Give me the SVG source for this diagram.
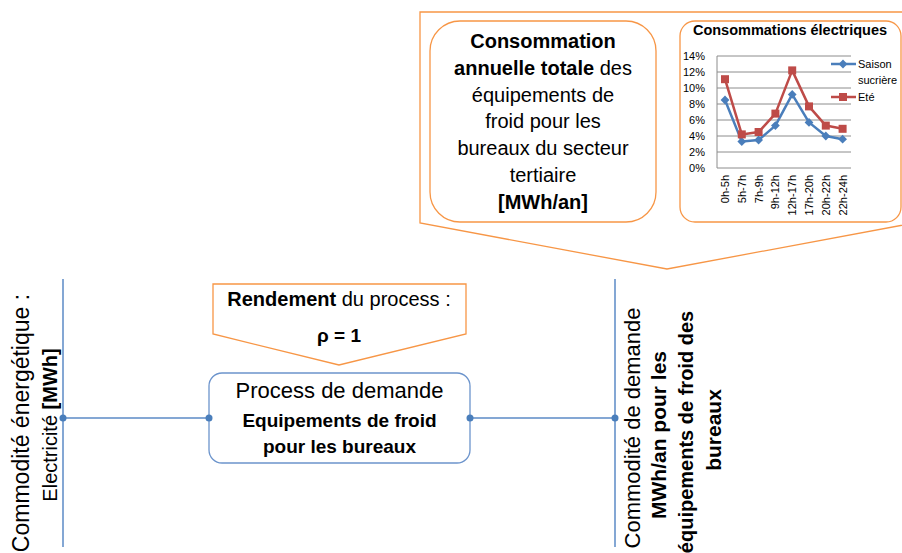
<svg xmlns="http://www.w3.org/2000/svg" width="902" height="553" viewBox="0 0 902 553">
<style>
text{font-family:"Liberation Sans",Arial,sans-serif;fill:#000}
.b{font-weight:bold}
.orange{fill:#fff;stroke:#F79646;stroke-width:1.3}
.conn{stroke:#5B8AC6;stroke-width:1.5;fill:none}
.dot{fill:#4A7EBB}
.grid{stroke:#8C8C8C;stroke-width:1}
.ax{font-size:11px}
</style>
<defs>
<marker id="mDia" markerUnits="userSpaceOnUse" markerWidth="10" markerHeight="10" refX="5" refY="5" viewBox="0 0 10 10" overflow="visible">
<path d="M5,0.6 L9.4,5 L5,9.4 L0.6,5 Z" fill="#4A7EBB"/>
</marker>
<marker id="mSq" markerUnits="userSpaceOnUse" markerWidth="10" markerHeight="10" refX="5" refY="5" viewBox="0 0 10 10" overflow="visible">
<rect x="1" y="1" width="8" height="8" fill="#BE4B48"/>
</marker>
</defs>

<g id="callout-top">
<path class="orange" d="M420,12 H914 V223 L667,269 L420,223 Z"/>
</g>

<g id="node-consommation">
<rect class="orange" x="430" y="21" width="226" height="201" rx="30" ry="30"/>
<g font-size="20" text-anchor="middle">
<text x="543" y="48" class="b">Consommation</text>
<text x="543" y="75"><tspan class="b">annuelle totale</tspan> des</text>
<text x="543" y="102">équipements de</text>
<text x="543" y="128">froid pour les</text>
<text x="543" y="155">bureaux du secteur</text>
<text x="543" y="182">tertiaire</text>
<text x="543" y="209" class="b">[MWh/an]</text>
</g>
</g>

<g id="node-chart">
<rect class="orange" x="680" y="21" width="221" height="201" rx="15" ry="15"/>
<text x="790" y="35" font-size="14.5" class="b" text-anchor="middle">Consommations électriques</text>
<g class="grid">
<line x1="717" y1="56" x2="851" y2="56"/>
<line x1="717" y1="72" x2="851" y2="72"/>
<line x1="717" y1="88" x2="851" y2="88"/>
<line x1="717" y1="104" x2="851" y2="104"/>
<line x1="717" y1="120" x2="851" y2="120"/>
<line x1="717" y1="136" x2="851" y2="136"/>
<line x1="717" y1="152" x2="851" y2="152"/>
<line x1="717" y1="168" x2="851" y2="168"/>
<line x1="717" y1="56" x2="717" y2="168"/>
</g>
<g class="ax" text-anchor="end">
<text x="705" y="60">14%</text>
<text x="705" y="76">12%</text>
<text x="705" y="92">10%</text>
<text x="705" y="108">8%</text>
<text x="705" y="124">6%</text>
<text x="705" y="140">4%</text>
<text x="705" y="156">2%</text>
<text x="705" y="172">0%</text>
</g>
<g class="ax" text-anchor="end">
<text transform="translate(729,175) rotate(-90)">0h-5h</text>
<text transform="translate(745.8,175) rotate(-90)">5h-7h</text>
<text transform="translate(762.6,175) rotate(-90)">7h-9h</text>
<text transform="translate(779.4,175) rotate(-90)">9h-12h</text>
<text transform="translate(796.2,175) rotate(-90)">12h-17h</text>
<text transform="translate(813,175) rotate(-90)">17h-20h</text>
<text transform="translate(829.8,175) rotate(-90)">20h-22h</text>
<text transform="translate(846.6,175) rotate(-90)">22h-24h</text>
</g>
<polyline fill="none" stroke="#4A7EBB" stroke-width="2.5" stroke-linejoin="round" marker-start="url(#mDia)" marker-mid="url(#mDia)" marker-end="url(#mDia)" points="725,100 741.8,141.6 758.6,140 775.4,125.6 792.2,94.4 809,122.4 825.8,136 842.6,139.2"/>
<polyline fill="none" stroke="#BE4B48" stroke-width="2.5" stroke-linejoin="round" marker-start="url(#mSq)" marker-mid="url(#mSq)" marker-end="url(#mSq)" points="725,79.2 741.8,134.4 758.6,132 775.4,113.6 792.2,70.4 809,106.4 825.8,125.6 842.6,128.8"/>
<line x1="831" y1="64" x2="856" y2="64" stroke="#4A7EBB" stroke-width="2.5"/>
<path d="M843,59.6 L847.4,64 L843,68.4 L838.6,64 Z" fill="#4A7EBB"/>
<line x1="831" y1="97" x2="856" y2="97" stroke="#BE4B48" stroke-width="2.5"/>
<rect x="839" y="93" width="8" height="8" fill="#BE4B48"/>
<text x="858" y="68" class="ax">Saison</text>
<text x="858" y="84" class="ax">sucrière</text>
<text x="858" y="101" class="ax">Eté</text>
</g>

<g id="callout-rendement">
<path class="orange" d="M213,284 H466 V334 L339,365 L213,334 Z"/>
<text x="339" y="306" font-size="20" text-anchor="middle"><tspan class="b">Rendement</tspan> du process :</text>
<text x="339" y="342" font-size="19" text-anchor="middle" class="b">ρ = 1</text>
</g>

<g id="node-process">
<rect x="209" y="373" width="261" height="90" rx="13" ry="13" fill="#fff" stroke="#6C94CC" stroke-width="1.3"/>
<text x="339.5" y="398" font-size="22" text-anchor="middle">Process de demande</text>
<text x="339.5" y="427" font-size="19" text-anchor="middle" class="b">Equipements de froid</text>
<text x="339.5" y="453" font-size="19" text-anchor="middle" class="b">pour les bureaux</text>
</g>

<g id="node-commodite-energetique">
<text transform="translate(29,423) rotate(-90)" font-size="23" text-anchor="middle">Commodité énergétique :</text>
<text transform="translate(56.5,425) rotate(-90)" font-size="20" text-anchor="middle">Electricité <tspan class="b">[MWh]</tspan></text>
</g>

<g id="node-commodite-demande">
<text transform="translate(640,428) rotate(-90)" font-size="22" text-anchor="middle">Commodité de demande</text>
<text transform="translate(666,435) rotate(-90)" font-size="21" text-anchor="middle" class="b">MWh/an pour les</text>
<text transform="translate(692.5,432) rotate(-90)" font-size="20" text-anchor="middle" class="b">équipements de froid des</text>
<text transform="translate(721,430) rotate(-90)" font-size="21" text-anchor="middle" class="b">bureaux</text>
</g>

<g id="connectors">
<line class="conn" x1="63" y1="279" x2="63" y2="547"/>
<line class="conn" x1="615" y1="279" x2="615" y2="547"/>
<line class="conn" x1="63" y1="418" x2="209" y2="418"/>
<line class="conn" x1="470" y1="418" x2="615" y2="418"/>
<circle class="dot" cx="63" cy="418" r="3.5"/>
<circle class="dot" cx="209" cy="418" r="3.5"/>
<circle class="dot" cx="470" cy="418" r="3.5"/>
<circle class="dot" cx="615" cy="418" r="3.5"/>
</g>
</svg>
